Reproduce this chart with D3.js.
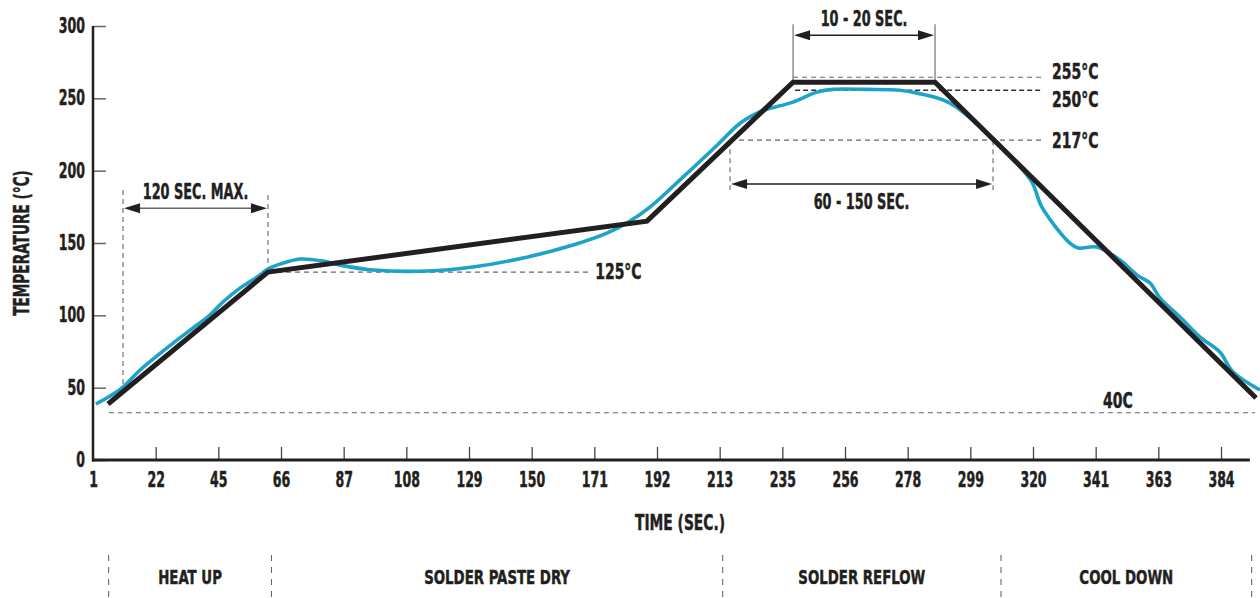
<!DOCTYPE html>
<html><head><meta charset="utf-8">
<script src="https://cdn.jsdelivr.net/npm/d3@7"></script>
<style>
body{margin:0;background:#fff}
svg text{font-family:"DejaVu Sans Condensed","Liberation Sans Narrow",sans-serif;font-weight:bold;fill:#231f20;stroke:#231f20;stroke-width:0.45px}
</style></head><body><svg id="c" width="1260" height="598"></svg>
<script>
// ---------- data ----------
const xTickLabels = ["1","22","45","66","87","108","129","150","171","192","213","235","256","278","299","320","341","363","384"];
const yTickValues = [0, 50, 100, 150, 200, 250, 300];

// recommended (black) profile
const profileTime = [6.1, 60.4, 189.1, 238.7, 286.9, 395.9];
const profileTemp = [38.7, 129.9, 165.1, 261.2, 261.2, 42.8];

// measured (blue) profile
const measuredTime = [2.0, 6.8, 11.2, 17.0, 28.2, 36.3, 40.7, 45.1, 50.9, 56.7, 60.4, 64.5, 71.3, 79.1, 84.9, 96.1, 114.4, 130.0, 147.0, 164.0, 175.5, 182.3, 190.1, 201.3, 212.9, 220.7, 226.5, 229.9, 238.7, 246.8, 252.3, 263.8, 275.0, 280.8, 292.0, 305.6, 312.4, 319.8, 323.2, 332.7, 335.5, 341.9, 349.7, 355.5, 359.9, 363.3, 370.1, 376.9, 383.6, 388.1, 397.2];
const measuredTemp = [38.7, 44.2, 50.4, 62.2, 80.8, 93.3, 100.2, 109.2, 118.8, 126.4, 132.0, 135.4, 138.9, 137.5, 134.7, 131.3, 130.6, 133.4, 139.6, 148.6, 156.8, 163.8, 174.8, 195.5, 217.6, 232.8, 239.8, 242.5, 247.4, 254.3, 256.2, 256.2, 255.6, 253.6, 246.7, 223.9, 210.2, 192.1, 174.8, 149.9, 146.5, 147.2, 138.2, 127.8, 122.3, 111.9, 98.8, 85.0, 74.6, 60.8, 48.4];

// temperature level markers
const levelLabels = ["255°C", "250°C", "217°C", "125°C", "40C"];
const levelTemps  = [264.6, 255.6, 221.1, 129.9, 32.7];
const levelStart  = [238.7, 239.4, 217.3, 60.4, 6.4];
const levelEnd    = [323.6, 323.6, 323.6, 169.8, 395.6];

// time span markers
const spanLabels    = ["120 SEC. MAX.", "10 - 20 SEC.", "60 - 150 SEC."];
const spanStart     = [11.2, 238.7, 217.3];
const spanEnd       = [60.4, 286.9, 306.6];
const spanArrowTemp = [174.0, 293.6, 190.7];
const spanTopL      = [186.6, 301.2, 221.1];
const spanTopR      = [183.2, 301.2, 221.1];
const spanBottomL   = [46.3, 261.2, 186.6];
const spanBottomR   = [129.9, 261.2, 186.6];

// process phases
const phaseNames  = ["HEAT UP", "SOLDER PASTE DRY", "SOLDER REFLOW", "COOL DOWN"];
const phaseBounds = [6.3, 61.6, 214.8, 309.3, 394.4];

// ---------- chart ----------
const svg = d3.select("#c");
const ink = "#231f20", grey = "#666", blue = "#1da2c8";
const x = d3.scaleLinear().domain([1, 396]).range([93, 93 + 395 * (1128 / 383)]);
const y = d3.scaleLinear().domain([0, 300]).range([460, 26]);
const xTickVals = xTickLabels.map((d, i) => 1 + i * 383 / 18);

function squeeze(sel, k) {
  sel.each(function () {
    const w = this.getComputedTextLength();
    this.setAttribute("textLength", (w * k).toFixed(1));
    this.setAttribute("lengthAdjust", "spacingAndGlyphs");
  });
}

// dashed level lines
levelLabels.forEach((lab, i) => {
  svg.append("line")
    .attr("x1", x(levelStart[i])).attr("x2", x(levelEnd[i]))
    .attr("y1", y(levelTemps[i])).attr("y2", y(levelTemps[i]))
    .attr("stroke", i === 1 ? "#333" : grey)
    .attr("stroke-width", i === 1 ? 1.6 : 1.1)
    .attr("stroke-dasharray", i === 1 ? "5,3" : "5,4");
  const t = svg.append("text").text(lab).style("font-size", "20.5px");
  if (i < 3) {
    t.attr("x", x(levelEnd[i]) + 9).attr("y", y(levelTemps[i])).attr("dy", "0.1em");
    if (i === 1) t.attr("dy", "0.8em");
    if (i === 2) t.attr("dy", "0.36em");
  } else if (i === 3) {
    t.attr("x", x(levelEnd[i]) + 5).attr("y", y(levelTemps[i])).attr("dy", "0.36em");
  } else {
    t.attr("x", x(349)).attr("y", y(levelTemps[i]) - 12).attr("dy", "0.36em").attr("text-anchor", "middle");
  }
  squeeze(t, 0.76);
});

// span markers
function arrowHead(px, py, dir, col) {
  const L = 16, H = 5;
  svg.append("path")
    .attr("d", `M${px},${py}L${px + dir * L},${py - H}L${px + dir * L},${py + H}Z`)
    .attr("fill", col);
}
spanLabels.forEach((lab, i) => {
  const solid = i === 1;
  const col = i === 0 ? grey : ink;
  const x1 = x(spanStart[i]), x2 = x(spanEnd[i]), ya = y(spanArrowTemp[i]);
  svg.append("line").attr("x1", x1).attr("x2", x1)
    .attr("y1", y(spanTopL[i])).attr("y2", y(spanBottomL[i]))
    .attr("stroke", grey).attr("stroke-width", 1.1)
    .attr("stroke-dasharray", solid ? null : "5,4");
  svg.append("line").attr("x1", x2).attr("x2", x2)
    .attr("y1", y(spanTopR[i])).attr("y2", y(spanBottomR[i]))
    .attr("stroke", grey).attr("stroke-width", 1.1)
    .attr("stroke-dasharray", solid ? null : "5,4");
  svg.append("line").attr("x1", x1 + 4).attr("x2", x2 - 4).attr("y1", ya).attr("y2", ya)
    .attr("stroke", col).attr("stroke-width", 1.5);
  arrowHead(x1 + 1, ya, 1, ink);
  arrowHead(x2 - 1, ya, -1, ink);
  const t = svg.append("text").text(lab).attr("text-anchor", "middle")
    .attr("x", (x1 + x2) / 2).style("font-size", "21px");
  if (i === 2) t.attr("y", ya + 17).attr("dy", "0.36em");
  else t.attr("y", ya - 17).attr("dy", "0.36em");
  squeeze(t, 0.68);
});

// axes
const yAxis = d3.axisLeft(y).tickValues(yTickValues).tickSize(-13).tickPadding(8);
const gy = svg.append("g").attr("transform", `translate(${x(1)},0)`).call(yAxis);
gy.select(".domain").remove();
gy.selectAll(".tick line").attr("stroke", grey).attr("stroke-width", 1.5);
gy.selectAll(".tick text").style("font-size", "20.5px").attr("fill", ink);
squeeze(gy.selectAll(".tick text"), 0.68);

const xAxis = d3.axisBottom(x).tickValues(xTickVals).tickFormat((d, i) => xTickLabels[i]).tickSize(-13).tickPadding(12);
const gx = svg.append("g").attr("transform", `translate(0,${y(0)})`).call(xAxis);
gx.select(".domain").remove();
gx.selectAll(".tick line").attr("stroke", "#444").attr("stroke-width", 1.3);
gx.selectAll(".tick text").style("font-size", "20.5px").attr("fill", ink);
squeeze(gx.selectAll(".tick text"), 0.68);
gx.selectAll(".tick").filter((d, i) => i === 0).select("line").remove();

svg.append("line").attr("x1", x(1)).attr("x2", x(1)).attr("y1", y(300)).attr("y2", y(0) + 1.5)
  .attr("stroke", ink).attr("stroke-width", 2.5);
svg.append("line").attr("x1", x(1) - 1).attr("x2", x(393.8)).attr("y1", y(0)).attr("y2", y(0))
  .attr("stroke", ink).attr("stroke-width", 3);

// curves
const measured = measuredTime.map((t, i) => [t, measuredTemp[i]]);
const profile = profileTime.map((t, i) => [t, profileTemp[i]]);
svg.append("path").datum(measured)
  .attr("d", d3.line().x(d => x(d[0])).y(d => y(d[1])).curve(d3.curveCatmullRom.alpha(0.5)))
  .attr("fill", "none").attr("stroke", blue).attr("stroke-width", 3.6);
svg.append("path").datum(profile)
  .attr("d", d3.line().x(d => x(d[0])).y(d => y(d[1])))
  .attr("fill", "none").attr("stroke", ink).attr("stroke-width", 5).attr("stroke-linejoin", "miter");

// axis titles
const yt = svg.append("text").text("TEMPERATURE (°C)").attr("text-anchor", "middle")
  .attr("transform", `translate(22,${y(150)}) rotate(-90)`).attr("dy", "0.36em")
  .style("font-size", "20.5px");
squeeze(yt, 0.74);
const xt = svg.append("text").text("TIME (SEC.)").attr("text-anchor", "middle")
  .attr("x", 680).attr("y", 523).attr("dy", "0.36em")
  .style("font-size", "20.5px");
squeeze(xt, 0.75);

// phases
phaseBounds.forEach(b => {
  svg.append("line").attr("x1", x(b)).attr("x2", x(b)).attr("y1", 555).attr("y2", 598)
    .attr("stroke", grey).attr("stroke-width", 1.1).attr("stroke-dasharray", "6,6");
});
phaseNames.forEach((n, i) => {
  const t = svg.append("text").text(n).attr("text-anchor", "middle")
    .attr("x", (x(phaseBounds[i]) + x(phaseBounds[i + 1])) / 2).attr("y", 577).attr("dy", "0.36em")
    .style("font-size", "19px");
  squeeze(t, 0.78);
});
</script></body></html>
